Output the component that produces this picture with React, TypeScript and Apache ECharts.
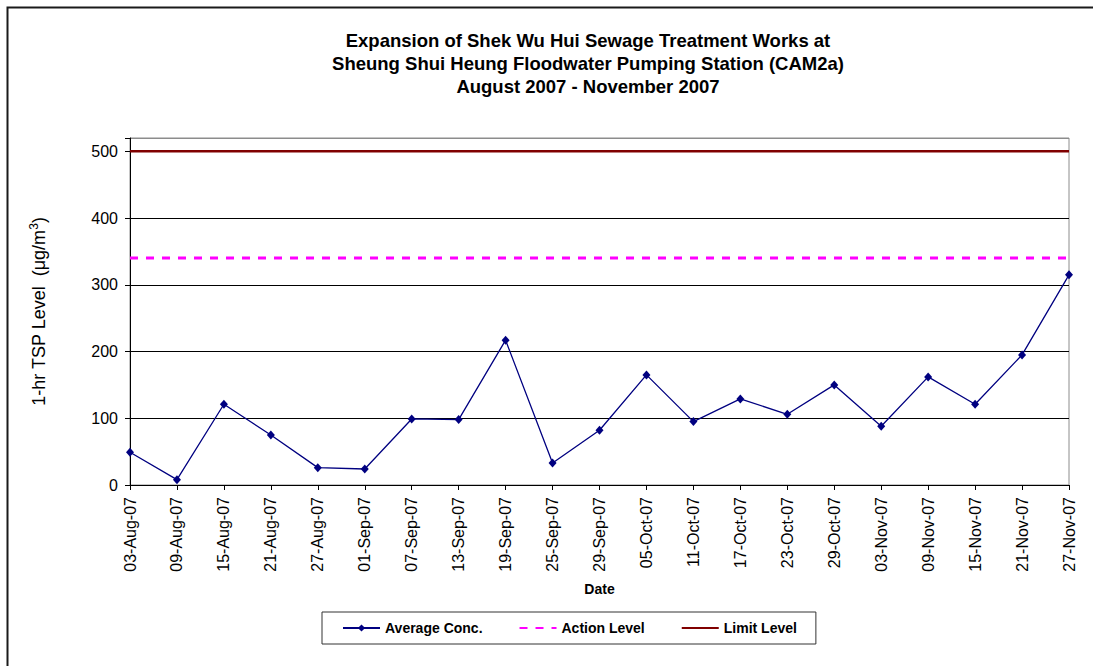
import React, { useEffect, useRef } from "react";
import * as echarts from "echarts";

const categories = [
  "03-Aug-07", "09-Aug-07", "15-Aug-07", "21-Aug-07", "27-Aug-07",
  "01-Sep-07", "07-Sep-07", "13-Sep-07", "19-Sep-07", "25-Sep-07",
  "29-Sep-07", "05-Oct-07", "11-Oct-07", "17-Oct-07", "23-Oct-07",
  "29-Oct-07", "03-Nov-07", "09-Nov-07", "15-Nov-07", "21-Nov-07",
  "27-Nov-07",
];

const averageConc = [
  49, 8, 121, 75, 26, 24, 99, 98, 217, 33,
  82, 165, 95, 129, 106, 150, 88, 162, 121, 195,
  315,
];

const actionLevel = [
  340, 340, 340, 340, 340, 340, 340, 340, 340, 340,
  340, 340, 340, 340, 340, 340, 340, 340, 340, 340,
  340,
];

const limitLevel = [
  500, 500, 500, 500, 500, 500, 500, 500, 500, 500,
  500, 500, 500, 500, 500, 500, 500, 500, 500, 500,
  500,
];

const yTicks = [0, 100, 200, 300, 400, 500];

const titleLines = [
  "Expansion of Shek Wu Hui Sewage Treatment Works at",
  "Sheung Shui Heung Floodwater Pumping Station (CAM2a)",
  "August 2007 - November 2007",
];

export default function App() {
  const ref = useRef<HTMLDivElement>(null);

  useEffect(() => {
    if (!ref.current) return;
    const chart = echarts.init(ref.current, null, { renderer: "svg" });
    const font = "Liberation Sans, Arial, sans-serif";
    chart.setOption({
      animation: false,
      backgroundColor: "#ffffff",
      textStyle: { fontFamily: font },
      title: {
        text: titleLines.join("\n"),
        left: 588,
        top: 29,
        padding: 0,
        textAlign: "center",
        textStyle: {
          fontFamily: font,
          fontSize: 18.5,
          fontWeight: "bold",
          color: "#000",
          lineHeight: 23,
        },
      },
      graphic: [
        {
          type: "rect",
          shape: { x: 7.5, y: 7.5, width: 1200, height: 800 },
          style: { fill: "none", stroke: "#1a1a1a", lineWidth: 2 },
          silent: true,
        },
      ],
      grid: {
        left: 130,
        right: 24,
        top: 138,
        bottom: 181,
        show: true,
        borderColor: "#8c8c8c",
        borderWidth: 1,
        backgroundColor: "transparent",
      },
      legend: {
        left: 322,
        top: 612,
        padding: [9, 19, 9, 20],
        itemGap: 36,
        itemWidth: 37,
        itemHeight: 9,
        borderColor: "#333",
        borderWidth: 1,
        textStyle: { fontFamily: font, fontSize: 14, fontWeight: "bold", color: "#000" },
        data: [
          { name: "Average Conc." },
          { name: "Action Level", itemStyle: { opacity: 0 } },
          { name: "Limit Level", itemStyle: { opacity: 0 } },
        ],
      },
      xAxis: {
        type: "category",
        data: categories,
        boundaryGap: false,
        name: "Date",
        nameLocation: "middle",
        nameGap: 97,
        nameMoveOverlap: false,
        nameTextStyle: { fontFamily: font, fontSize: 14, fontWeight: "bold", color: "#000" },
        axisLine: { lineStyle: { color: "#000", width: 1 } },
        axisTick: { show: true, length: 5, inside: false, lineStyle: { color: "#000" } },
        axisLabel: {
          rotate: 90,
          interval: 0,
          margin: 12,
          fontSize: 16,
          color: "#000",
          fontFamily: font,
        },
        splitLine: { show: false },
      },
      yAxis: {
        type: "value",
        min: 0,
        max: 520,
        interval: 100,
        name: "1-hr TSP Level  (μg/m{sup|3})",
        nameLocation: "middle",
        nameGap: 81,
        nameRotate: 90,
        nameMoveOverlap: false,
        nameTextStyle: {
          fontFamily: font,
          fontSize: 18,
          color: "#000",
          rich: {
            sup: { fontSize: 12, verticalAlign: "top", padding: [0, 0, 9, 0], fontFamily: font, color: "#000" },
          },
        },
        axisLine: { show: true, lineStyle: { color: "#000", width: 1 } },
        axisTick: { show: true, length: 5, lineStyle: { color: "#000" } },
        axisLabel: {
          margin: 12,
          fontSize: 16,
          color: "#000",
          fontFamily: font,
          formatter: (v: number) => (yTicks.indexOf(v) >= 0 ? String(v) : ""),
        },
        splitLine: {
          show: true,
          lineStyle: {
            color: ["#000", "#000", "#000", "#000", "#000", "#000", "#8c8c8c"],
            width: 1,
          },
        },
      },
      series: [
        {
          name: "Average Conc.",
          type: "line",
          data: averageConc,
          symbol: "diamond",
          symbolSize: [8, 9],
          itemStyle: { color: "#000080" },
          lineStyle: { color: "#000080", width: 1.3 },
          z: 5,
        },
        {
          name: "Action Level",
          type: "line",
          data: actionLevel,
          symbol: "none",
          itemStyle: { color: "#ff00ff" },
          lineStyle: { color: "#ff00ff", width: 3, type: [8, 8] },
          z: 3,
        },
        {
          name: "Limit Level",
          type: "line",
          data: limitLevel,
          symbol: "none",
          itemStyle: { color: "#800000" },
          lineStyle: { color: "#800000", width: 2.5 },
          z: 4,
        },
      ],
    });
    return () => chart.dispose();
  }, []);

  return (
    <div
      ref={ref}
      style={{ position: "fixed", left: 0, top: 0, width: 1093, height: 666 }}
    />
  );
}
